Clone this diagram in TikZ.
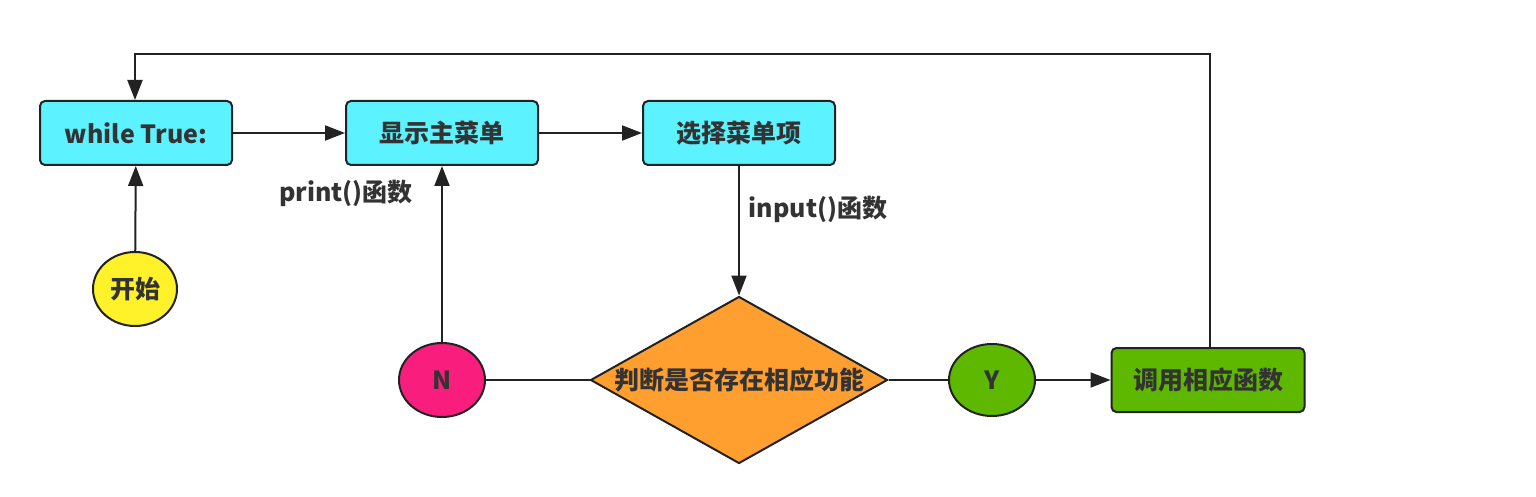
\documentclass[tikz,border=0pt]{standalone}
\usepackage{fontspec}
\setmainfont{Noto Sans CJK SC}
\usetikzlibrary{shapes.geometric,arrows.meta}
\definecolor{cyanbox}{HTML}{5CF2FF}
\definecolor{yel}{HTML}{FFF22A}
\definecolor{pink}{HTML}{F91E7D}
\definecolor{orng}{HTML}{FF9F30}
\definecolor{grn}{HTML}{5FB800}
\definecolor{ink}{HTML}{222222}
\definecolor{txt}{HTML}{333333}
\tikzset{
  base/.style={draw=ink, line width=2pt, text=txt, font=\fontsize{25}{28}\selectfont\bfseries, inner sep=0pt},
  rbox/.style={base, rounded corners=5pt, minimum width=192pt, minimum height=64pt},
  oval/.style={base, ellipse, minimum width=86pt, minimum height=74pt},
  dia/.style={base, diamond, minimum width=297pt, minimum height=167pt},
  conn/.style={draw=ink, line width=2pt},
  arr/.style={conn, -{Triangle[length=20pt,width=15pt]}},
  lbl/.style={text=txt, font=\fontsize{25}{28}\selectfont\bfseries, inner sep=0pt},
}
\begin{document}
\begin{tikzpicture}[x=1pt,y=-1pt]
\useasboundingbox[fill=white] (0,0) rectangle (1536,497);
\node[rbox, fill=cyanbox] (w) at (136,133) {while True:};
\node[rbox, fill=cyanbox] (m) at (442,133) {显示主菜单};
\node[rbox, fill=cyanbox] (s) at (739,133) {选择菜单项};
\node[oval, fill=yel, minimum width=84pt] (st) at (135,289) {开始};
\node[oval, fill=pink] (n) at (442,380) {N};
\node[dia, fill=orng] (d) at (739,380) {};
\node[lbl] (dt) at (739,380) {判断是否存在相应功能};
\node[oval, fill=grn, minimum height=72pt] (y) at (992,380) {Y};
\node[rbox, fill=grn, minimum width=193pt] (c) at (1208,380) {调用相应函数};
\node[lbl] (pl) at (346,193) {print()函数};
\node[lbl] (il) at (818,209) {input()函数};
\coordinate (tr) at (1210,54);
\coordinate (tl) at (135,54);

\draw[arr] (st) -- (w);
\draw[arr] (w) -- (m);
\draw[arr] (m) -- (s);
\draw[arr] (s) -- (d.north);
\draw[arr] (n) -- (m);
\draw[conn] (d.west) -- (n);
\draw[conn] (d.east) -- (y);
\draw[arr] (y) -- (c);
\draw[arr] (c.north -| tr) -- (tr) -- (tl) -- (w.north -| tl);
\end{tikzpicture}
\end{document}
